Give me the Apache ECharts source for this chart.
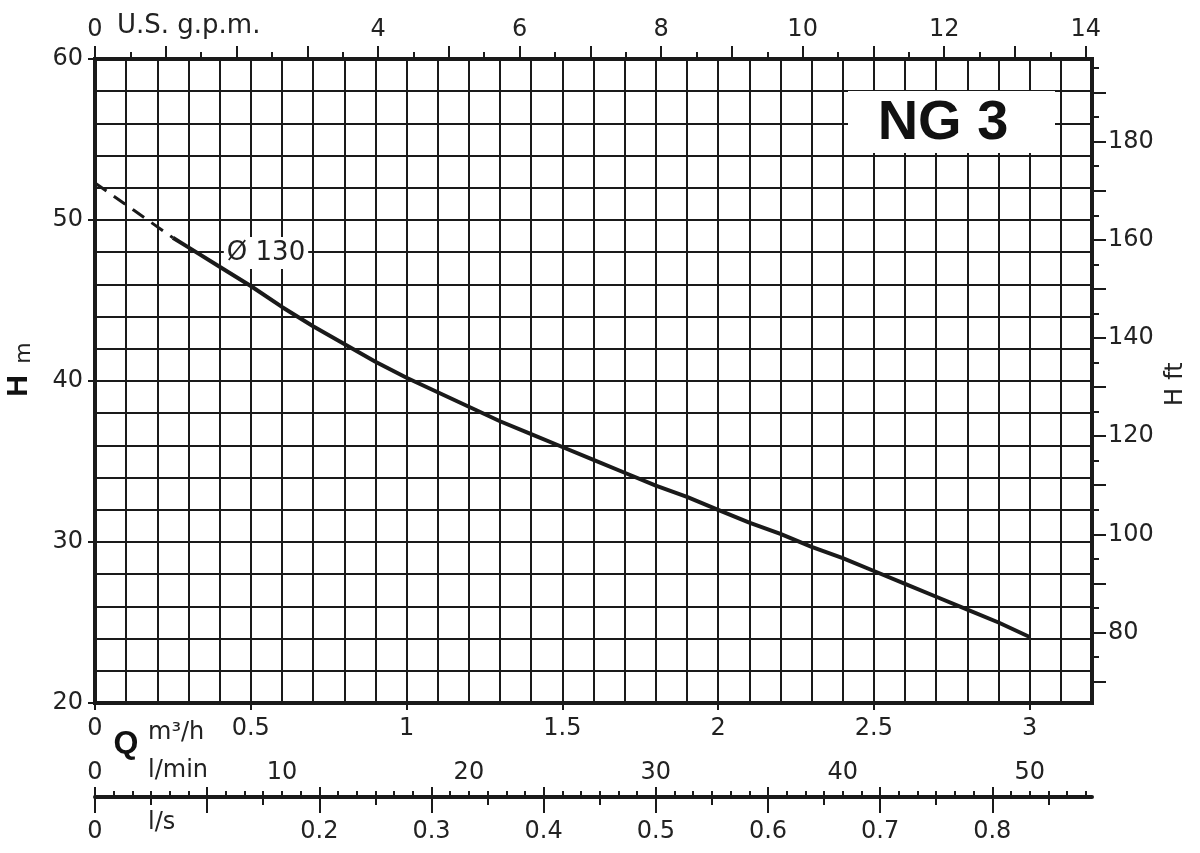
<!DOCTYPE html>
<html>
<head>
<meta charset="utf-8">
<script src="https://cdn.jsdelivr.net/npm/echarts@6/dist/echarts.min.js"></script>
<style>
html,body{margin:0;padding:0;background:#fff;}
#chart{width:1200px;height:853px;}
</style>
</head>
<body>
<div id="chart"></div>
<script>
// ---- data ----
const qDashed = [0, 0.125, 0.25];
const hDashed = [52.3, 50.6, 48.9];
const qSolid = [0.25, 0.3, 0.4, 0.5, 0.6, 0.7, 0.8, 0.9, 1.0, 1.1, 1.2, 1.3, 1.4, 1.5, 1.6, 1.7, 1.8, 1.9, 2.0, 2.1, 2.2, 2.3, 2.4, 2.5, 2.6, 2.7, 2.8, 2.9, 3.0];
const hSolid = [48.9, 48.3, 47.1, 45.9, 44.6, 43.4, 42.3, 41.2, 40.2, 39.3, 38.4, 37.5, 36.7, 35.9, 35.1, 34.3, 33.5, 32.8, 32.0, 31.2, 30.5, 29.7, 29.0, 28.2, 27.4, 26.6, 25.8, 25.0, 24.1];

// tick labels
const qLabels = [0, 0.5, 1, 1.5, 2, 2.5, 3];
const gpmLabels = [0, 4, 6, 8, 10, 12, 14];
const ftLabels = [80, 100, 120, 140, 160, 180];
const lminLabels = [0, 10, 20, 30, 40, 50];
const lsLabels = [0, 0.2, 0.3, 0.4, 0.5, 0.6, 0.7, 0.8];

// axis ranges and unit conversions
const Q_MIN = 0, Q_MAX = 3.2;
const H_MIN = 20, H_MAX = 60;
const M3H_TO_GPM = 4.40287;
const M_TO_FT = 3.28084;
const M3H_TO_LMIN = 1000 / 60;
const M3H_TO_LS = 1 / 3.6;

function steps(start, end, step) {
  const out = [];
  for (let i = 0; start + i * step <= end + 1e-9; i++) out.push(+(start + i * step).toFixed(4));
  return out;
}

const C = '#1a1a1a';
const TXT = '#222';
const FF = 'DejaVu Sans';
const FS = 24;

const hiddenLine = { show: false, onZero: false };
const noSplit = { show: false };

function tick(values, len, inside) {
  return { show: true, customValues: values, length: len, inside: !!inside, lineStyle: { color: C, width: 2 } };
}
function label(values, margin, fmt, inside) {
  return { show: true, customValues: values, margin: margin, inside: !!inside, fontSize: FS, fontFamily: FF, color: TXT, formatter: fmt || (v => String(v)) };
}

const option = {
  backgroundColor: '#fff',
  animation: false,
  grid: { left: 95, right: 108, top: 59, bottom: 150, containLabel: false, outerBoundsMode: 'none' },
  xAxis: [
    { // 0: main Q axis (grid lines)
      type: 'value', position: 'bottom', min: Q_MIN, max: Q_MAX, interval: 0.1,
      axisLine: { show: true, onZero: false, lineStyle: { color: C, width: 4, cap: 'square' } },
      axisTick: { show: false }, axisLabel: { show: false },
      splitLine: { show: true, lineStyle: { color: C, width: 2 } }
    },
    { // 1: Q ticks + labels
      type: 'value', position: 'bottom', min: Q_MIN, max: Q_MAX,
      axisLine: hiddenLine, axisTick: tick(qLabels, 7), axisLabel: label(qLabels, 14), splitLine: noSplit
    },
    { // 2: US gpm top, long ticks + labels
      type: 'value', position: 'top', min: Q_MIN * M3H_TO_GPM, max: Q_MAX * M3H_TO_GPM,
      axisLine: { show: true, onZero: false, lineStyle: { color: C, width: 4, cap: 'square' } },
      axisTick: tick(steps(0, 14, 1), 13), axisLabel: label(gpmLabels, 17), splitLine: noSplit
    },
    { // 3: US gpm short ticks
      type: 'value', position: 'top', min: Q_MIN * M3H_TO_GPM, max: Q_MAX * M3H_TO_GPM,
      axisLine: hiddenLine, axisTick: tick(steps(0.5, 13.5, 1), 7), axisLabel: { show: false }, splitLine: noSplit
    },
    { // 4: l/min ruler
      type: 'value', position: 'bottom', offset: 94, min: Q_MIN * M3H_TO_LMIN, max: Q_MAX * M3H_TO_LMIN,
      axisLine: { show: true, onZero: false, lineStyle: { color: C, width: 4 } },
      axisTick: tick(steps(0, 53, 1), 6, true), axisLabel: label(lminLabels, 12, null, true), splitLine: noSplit
    },
    { // 5: l/s ticks 0.05 + labels
      type: 'value', position: 'bottom', offset: 94, min: Q_MIN * M3H_TO_LS, max: Q_MAX * M3H_TO_LS,
      axisLine: hiddenLine, axisTick: tick(steps(0, 0.85, 0.05), 8),
      axisLabel: label(lsLabels, 23, v => (v === 0 ? '0' : v.toFixed(1))), splitLine: noSplit
    },
    { // 6: l/s 0.1 long ticks down
      type: 'value', position: 'bottom', offset: 94, min: Q_MIN * M3H_TO_LS, max: Q_MAX * M3H_TO_LS,
      axisLine: hiddenLine, axisTick: tick(steps(0, 0.8, 0.1), 16), axisLabel: { show: false }, splitLine: noSplit
    },
    { // 7: l/s 0.1 ticks up
      type: 'value', position: 'bottom', offset: 94, min: Q_MIN * M3H_TO_LS, max: Q_MAX * M3H_TO_LS,
      axisLine: hiddenLine, axisTick: tick(steps(0, 0.8, 0.1), 10, true), axisLabel: { show: false }, splitLine: noSplit
    }
  ],
  yAxis: [
    { // 0: H m
      type: 'value', position: 'left', min: H_MIN, max: H_MAX, interval: 10,
      axisLine: { show: true, onZero: false, lineStyle: { color: C, width: 4, cap: 'square' } },
      axisTick: { show: true, length: 7, lineStyle: { color: C, width: 2 } },
      axisLabel: { show: true, margin: 12, fontSize: FS, fontFamily: FF, color: TXT },
      splitLine: { show: true, lineStyle: { color: C, width: 2 } },
      minorTick: { show: false, splitNumber: 5 },
      minorSplitLine: { show: true, lineStyle: { color: C, width: 2 } }
    },
    { // 1: H ft long ticks + labels
      type: 'value', position: 'right', min: H_MIN * M_TO_FT, max: H_MAX * M_TO_FT,
      axisLine: { show: true, onZero: false, lineStyle: { color: C, width: 4, cap: 'square' } },
      axisTick: tick(steps(70, 190, 10), 14), axisLabel: label(ftLabels, 16), splitLine: noSplit
    },
    { // 2: H ft short ticks
      type: 'value', position: 'right', min: H_MIN * M_TO_FT, max: H_MAX * M_TO_FT,
      axisLine: hiddenLine, axisTick: tick(steps(75, 195, 10), 7), axisLabel: { show: false }, splitLine: noSplit
    }
  ],
  series: [
    {
      type: 'line', xAxisIndex: 0, yAxisIndex: 0, symbol: 'none', z: 5,
      data: qDashed.map((q, i) => [q, hDashed[i]]),
      lineStyle: { color: C, width: 3, type: [14, 9] }
    },
    {
      type: 'line', xAxisIndex: 0, yAxisIndex: 0, symbol: 'none', z: 5, smooth: false,
      data: qSolid.map((q, i) => [q, hSolid[i]]),
      lineStyle: { color: C, width: 4, join: 'round' }
    }
  ],
  graphic: [
    { type: 'rect', z: 3, shape: { x: 848, y: 91, width: 207, height: 62 }, style: { fill: '#fff' } },
    { type: 'text', z: 4, x: 943, y: 124, style: { text: 'NG 3', font: 'bold 56px "Liberation Sans"', fill: '#111', textAlign: 'center', textVerticalAlign: 'middle', align: 'center', verticalAlign: 'middle' } },
    { type: 'text', z: 3, x: 266, y: 253, style: { text: 'Ø 130', font: '26px "DejaVu Sans"', fill: TXT, backgroundColor: '#fff', padding: [3, 3], textAlign: 'center', textVerticalAlign: 'middle', align: 'center', verticalAlign: 'middle' } },
    { type: 'text', z: 4, x: 117, y: 26, style: { text: 'U.S. g.p.m.', font: '26px "DejaVu Sans"', fill: TXT, textAlign: 'left', textVerticalAlign: 'middle', align: 'left', verticalAlign: 'middle' } },
    { type: 'text', z: 4, x: 126, y: 744, style: { text: 'Q', font: 'bold 32px "Liberation Sans"', fill: '#111', textAlign: 'center', textVerticalAlign: 'middle', align: 'center', verticalAlign: 'middle' } },
    { type: 'text', z: 4, x: 148, y: 733, style: { text: 'm³/h', font: '24px "DejaVu Sans"', fill: TXT, textAlign: 'left', textVerticalAlign: 'middle', align: 'left', verticalAlign: 'middle' } },
    { type: 'text', z: 4, x: 148, y: 771, style: { text: 'l/min', font: '24px "DejaVu Sans"', fill: TXT, textAlign: 'left', textVerticalAlign: 'middle', align: 'left', verticalAlign: 'middle' } },
    { type: 'text', z: 4, x: 148, y: 823, style: { text: 'l/s', font: '24px "DejaVu Sans"', fill: TXT, textAlign: 'left', textVerticalAlign: 'middle', align: 'left', verticalAlign: 'middle' } },
    { type: 'text', z: 4, x: 19, y: 386, rotation: Math.PI / 2, style: { text: 'H', font: 'bold 30px "Liberation Sans"', fill: '#111', textAlign: 'center', textVerticalAlign: 'middle', align: 'center', verticalAlign: 'middle' } },
    { type: 'text', z: 4, x: 24, y: 353, rotation: Math.PI / 2, style: { text: 'm', font: '22px "DejaVu Sans"', fill: TXT, textAlign: 'center', textVerticalAlign: 'middle', align: 'center', verticalAlign: 'middle' } },
    { type: 'text', z: 4, x: 1176, y: 397, rotation: Math.PI / 2, style: { text: 'H', font: '24px "DejaVu Sans"', fill: TXT, textAlign: 'center', textVerticalAlign: 'middle', align: 'center', verticalAlign: 'middle' } },
    { type: 'text', z: 4, x: 1176, y: 371, rotation: Math.PI / 2, style: { text: 'ft', font: '24px "DejaVu Sans"', fill: TXT, textAlign: 'center', textVerticalAlign: 'middle', align: 'center', verticalAlign: 'middle' } }
  ]
};

const chart = echarts.init(document.getElementById('chart'), null, { renderer: 'canvas' });
chart.setOption(option);
</script>
</body>
</html>
